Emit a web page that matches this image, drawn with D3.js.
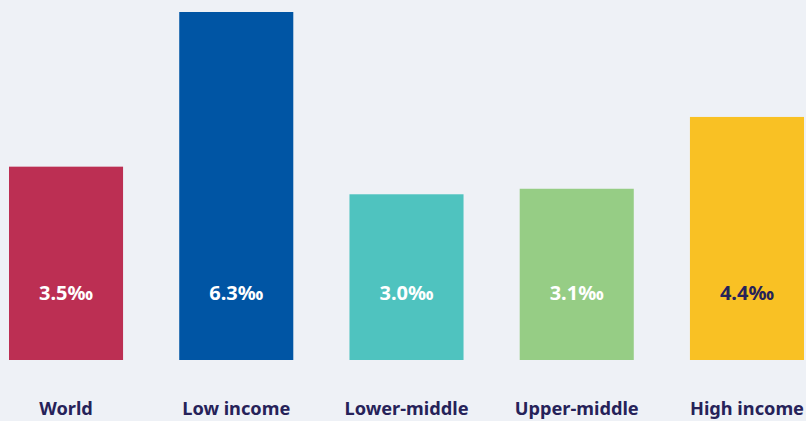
<!DOCTYPE html>
<html>
<head>
<meta charset="utf-8">
<script src="https://cdn.jsdelivr.net/npm/d3@7"></script>
<style>
  html, body { margin: 0; padding: 0; background: #eef1f6; }
  svg { display: block; }
  text { font-family: "Noto Sans", sans-serif; font-weight: 700; }
</style>
</head>
<body>
<svg width="806" height="421"></svg>
<script>
var categories = ["World", "Low income", "Lower-middle", "Upper-middle", "High income"];
var values = [3.5, 6.3, 3.0, 3.1, 4.4];
var colors = ["#bc2f53", "#0055a4", "#4fc3bf", "#96cd85", "#f9c124"];
var labelColors = ["#ffffff", "#ffffff", "#ffffff", "#ffffff", "#262259"];

var svg = d3.select("svg"),
    width = +svg.attr("width"),
    height = +svg.attr("height");

var data = categories.map(function(c, i) {
    return { name: c, value: values[i], color: colors[i], label: labelColors[i] };
});

var x = d3.scaleBand()
    .domain(categories)
    .range([9, 804])
    .paddingInner(0.33)
    .paddingOuter(0);

var y = d3.scaleLinear()
    .domain([0, 6.3])
    .range([360, 12]);

var bar = svg.selectAll(".bar")
    .data(data)
    .enter().append("g")
        .attr("class", "bar");

bar.append("rect")
    .attr("x", function(d) { return x(d.name); })
    .attr("y", function(d) { return y(d.value); })
    .attr("width", x.bandwidth())
    .attr("height", function(d) { return y(0) - y(d.value); })
    .style("fill", function(d) { return d.color; });

// value inside bar, all at same height
bar.append("text")
    .attr("x", function(d) { return x(d.name) + x.bandwidth() / 2; })
    .attr("y", 300)
    .attr("text-anchor", "middle")
    .style("font-size", "20px")
    .style("fill", function(d) { return d.label; })
    .text(function(d) { return d3.format(".1f")(d.value) + "‰"; });

// category labels
svg.selectAll(".cat")
    .data(data)
    .enter().append("text")
        .attr("class", "cat")
        .attr("x", function(d) { return x(d.name) + x.bandwidth() / 2; })
        .attr("y", 415)
        .attr("text-anchor", "middle")
        .style("font-size", "18.2px")
        .style("fill", "#262259")
        .text(function(d) { return d.name; });
</script>
</body>
</html>
